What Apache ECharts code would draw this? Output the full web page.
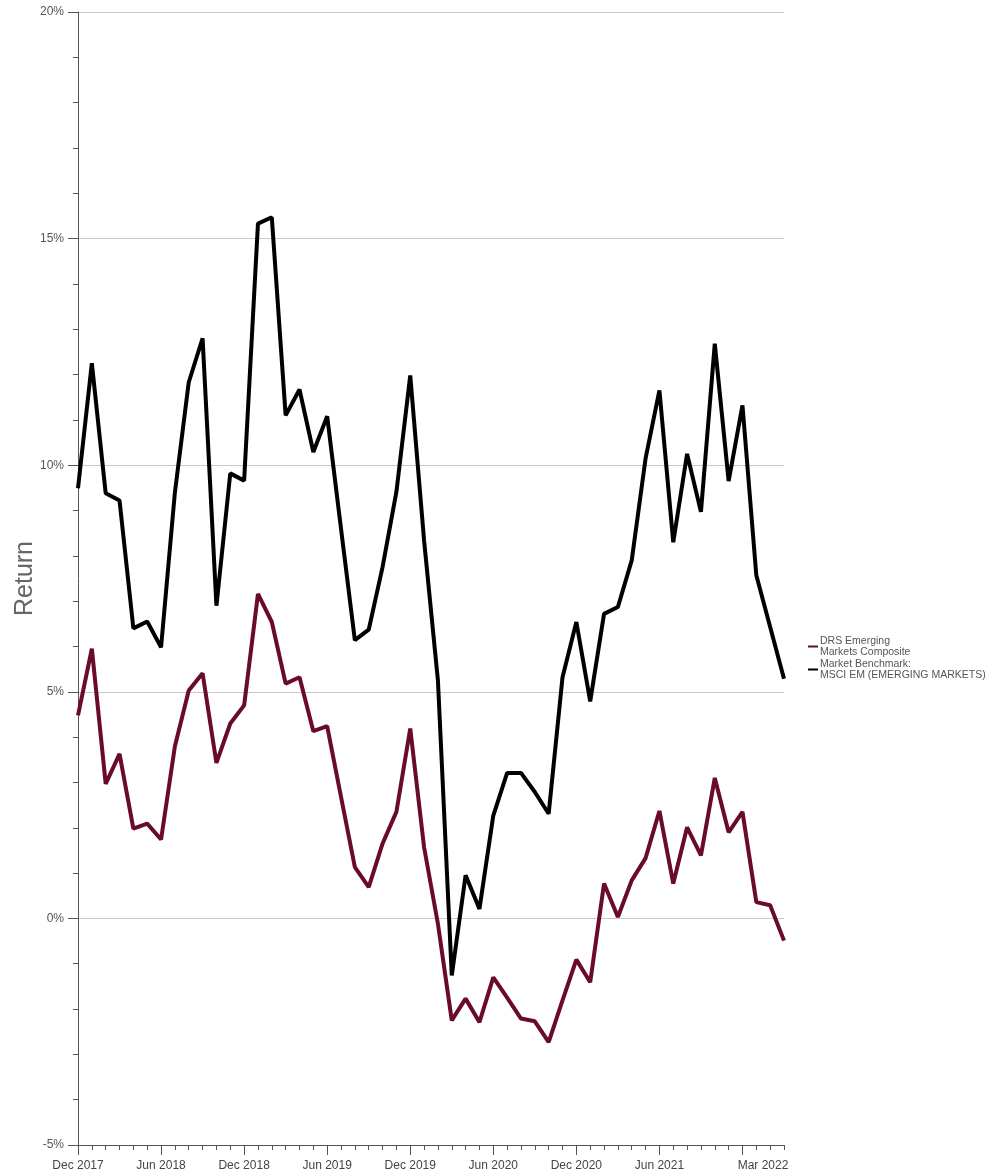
<!DOCTYPE html>
<html>
<head>
<meta charset="utf-8">
<script src="https://cdn.jsdelivr.net/npm/echarts@6/dist/echarts.min.js"></script>
<style>
html,body{margin:0;padding:0;background:#fff;}
#chart{width:1001px;height:1174px;}
</style>
</head>
<body>
<div id="chart"></div>
<script>
const months = ['Dec 2017','Jan 2018','Feb 2018','Mar 2018','Apr 2018','May 2018','Jun 2018','Jul 2018','Aug 2018','Sep 2018','Oct 2018','Nov 2018',
  'Dec 2018','Jan 2019','Feb 2019','Mar 2019','Apr 2019','May 2019','Jun 2019','Jul 2019','Aug 2019','Sep 2019','Oct 2019','Nov 2019',
  'Dec 2019','Jan 2020','Feb 2020','Mar 2020','Apr 2020','May 2020','Jun 2020','Jul 2020','Aug 2020','Sep 2020','Oct 2020','Nov 2020',
  'Dec 2020','Jan 2021','Feb 2021','Mar 2021','Apr 2021','May 2021','Jun 2021','Jul 2021','Aug 2021','Sep 2021','Oct 2021','Nov 2021',
  'Dec 2021','Jan 2022','Feb 2022','Mar 2022'];
const drsComposite = [4.48, 5.95, 2.97, 3.63, 1.98, 2.09, 1.74, 3.8, 5.03, 5.41,
  3.43, 4.3, 4.7, 7.16, 6.54, 5.18, 5.32, 4.13, 4.24, 2.68,
  1.13, 0.69, 1.65, 2.35, 4.19, 1.57, -0.12, -2.25, -1.77, -2.29,
  -1.3, -1.75, -2.21, -2.27, -2.73, -1.81, -0.91, -1.41, 0.77, 0.03,
  0.84, 1.33, 2.37, 0.77, 2.01, 1.39, 3.1, 1.9, 2.35, 0.36,
  0.29, -0.49];
const msciEM = [9.49, 12.25, 9.38, 9.22, 6.4, 6.55, 5.98, 9.4, 11.83, 12.8,
  6.9, 9.82, 9.66, 15.33, 15.47, 11.1, 11.67, 10.29, 11.08, 8.6,
  6.14, 6.37, 7.75, 9.41, 11.98, 8.34, 5.25, -1.26, 0.95, 0.21,
  2.27, 3.21, 3.21, 2.79, 2.31, 5.32, 6.54, 4.79, 6.72, 6.87,
  7.9, 10.15, 11.65, 8.3, 10.25, 8.97, 12.68, 9.65, 11.32, 7.57,
  6.43, 5.29];
const xTickLabels = ['Dec 2017','Jun 2018','Dec 2018','Jun 2019','Dec 2019','Jun 2020','Dec 2020','Jun 2021','Mar 2022'];
const majorTickMonths = ['Dec 2017','Jun 2018','Dec 2018','Jun 2019','Dec 2019','Jun 2020','Dec 2020','Jun 2021','Dec 2021'];
const yMin = -5, yMax = 20, yStep = 5;
const seriesNames = ['DRS Emerging\nMarkets Composite', 'Market Benchmark:\nMSCI EM (EMERGING MARKETS)'];

const FONT = '"Liberation Sans", Arial, Helvetica, sans-serif';
const lastMonth = months[months.length - 1];
const chart = echarts.init(document.getElementById('chart'), null, {renderer: 'canvas'});
chart.setOption({
  backgroundColor: '#fff',
  animation: false,
  textStyle: {fontFamily: FONT},
  grid: {left: 78, right: 217, top: 12, bottom: 29, containLabel: false, outerBoundsMode: 'none'},
  legend: {
    orient: 'vertical',
    left: 803,
    top: 630,
    itemGap: 0,
    itemWidth: 10,
    itemHeight: 2,
    icon: 'rect',
    data: seriesNames,
    textStyle: {fontFamily: FONT, fontSize: 10.5, color: '#555', lineHeight: 11.5, padding: [0, 0, 0, -3]}
  },
  xAxis: [
    {
      type: 'category',
      data: months,
      boundaryGap: false,
      axisLine: {show: true, onZero: false, lineStyle: {color: '#555', width: 1}},
      axisTick: {show: true, interval: 0, length: 5, lineStyle: {color: '#555'}},
      axisLabel: {show: false},
      splitLine: {show: false}
    },
    {
      type: 'category',
      data: months,
      boundaryGap: false,
      position: 'bottom',
      axisLine: {show: false, onZero: false},
      axisTick: {show: true, length: 10, lineStyle: {color: '#555'},
        interval: (i, v) => majorTickMonths.indexOf(v) >= 0},
      axisLabel: {
        show: true,
        interval: (i, v) => xTickLabels.indexOf(v) >= 0,
        formatter: (v) => v === lastMonth ? '{m|' + v + '}' : v,
        rich: {m: {fontSize: 12, color: '#444', fontFamily: FONT, padding: [0, 42, 0, 0]}},
        margin: 15,
        fontSize: 12,
        color: '#444',
        fontFamily: FONT,
        hideOverlap: false
      },
      splitLine: {show: false}
    }
  ],
  yAxis: {
    type: 'value',
    min: yMin,
    max: yMax,
    interval: yStep,
    name: 'Return',
    nameLocation: 'middle',
    nameGap: 40,
    nameMoveOverlap: false,
    nameTextStyle: {fontSize: 25, color: '#666', fontFamily: FONT},
    axisLine: {show: true, lineStyle: {color: '#555', width: 1}},
    axisTick: {show: true, length: 10, lineStyle: {color: '#555'}},
    minorTick: {show: true, splitNumber: 5, length: 5, lineStyle: {color: '#555'}},
    axisLabel: {formatter: '{value}%', fontSize: 12, color: '#555', margin: 14, fontFamily: FONT},
    splitLine: {show: true, lineStyle: {color: '#c8c8c8', width: 1}}
  },
  series: [
    {
      name: seriesNames[0],
      type: 'line',
      xAxisIndex: 0,
      data: drsComposite,
      symbol: 'none',
      color: '#690b29',
      lineStyle: {width: 4, color: '#690b29'}
    },
    {
      name: seriesNames[1],
      type: 'line',
      xAxisIndex: 0,
      data: msciEM,
      symbol: 'none',
      color: '#000',
      lineStyle: {width: 4, color: '#000'}
    }
  ]
});
</script>
</body>
</html>
